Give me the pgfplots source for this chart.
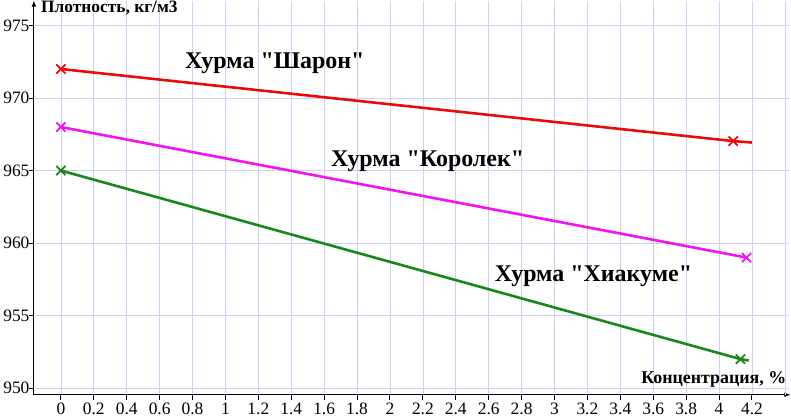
\documentclass[border=0pt]{standalone}
\usepackage{fontspec}
\setmainfont{Liberation Serif}
\usepackage{pgfplots}
\pgfplotsset{compat=1.18}
\font\annf="Liberation Serif/B" at 24bp
\definecolor{gridc}{RGB}{208,208,240}
\definecolor{cred}{RGB}{235,10,10}
\definecolor{cmag}{RGB}{240,20,240}
\definecolor{cgreen}{RGB}{25,135,25}
\begin{document}
\begin{tikzpicture}
\begin{axis}[
  scale only axis, width=758bp, height=395bp,
  xmin=-0.164, xmax=4.434, ymin=949.54, ymax=976.72,
  axis lines=left,
  axis line style={line width=1.1bp},
  every outer x axis line/.append style={-latex},
  every outer y axis line/.append style={-latex},
  tick align=outside, major tick length=5bp,
  tick style={black, line width=1bp},
  xtick={0,0.2,0.4,0.6,0.8,1,1.2,1.4,1.6,1.8,2,2.2,2.4,2.6,2.8,3,3.2,3.4,3.6,3.8,4,4.2},
  xticklabels={0,0.2,0.4,0.6,0.8,1,1.2,1.4,1.6,1.8,2,2.2,2.4,2.6,2.8,3,3.2,3.4,3.6,3.8,4,4.2},
  ytick={950,955,960,965,970,975},
  yticklabels={950,955,960,965,970,975},
  extra x ticks={4.4}, extra x tick labels={},
  extra x tick style={major tick length=0pt, grid=major},
  grid=major, grid style={gridc, line width=0.7bp},
  ticklabel style={font=\fontsize{17.5}{20}\selectfont},
  yticklabel style={xshift=4bp},
  clip=false,
]
\addplot[cred, line width=2.6bp, mark=x, mark size=6.5bp, mark indices={2}, mark options={line width=1.8bp}] coordinates {(0,972) (4.086,967.03) (4.20,966.93)};
\addplot[cmag, line width=2.6bp, mark=x, mark size=6.5bp, mark options={line width=1.8bp}] coordinates {(0,968) (4.167,959)};
\addplot[cgreen, line width=2.6bp, mark=x, mark size=6.5bp, mark indices={2}, mark options={line width=1.8bp}] coordinates {(0,965) (4.13,952) (4.18,951.9)};
\addplot[cred, only marks, mark=x, mark size=6.5bp, mark options={line width=1.8bp}] coordinates {(0,972)};
\addplot[cgreen, only marks, mark=x, mark size=6.5bp, mark options={line width=1.8bp}] coordinates {(0,965)};
\node[anchor=base] at (axis cs:1.30,972.04) {\annf Хурма "Шарон"};
\node[anchor=base] at (axis cs:2.229,965.25) {\annf Хурма "Королек"};
\node[anchor=base] at (axis cs:3.237,957.33) {\annf Хурма "Хиакуме"};
\node[anchor=base west, inner sep=0pt, font=\fontsize{17.5}{20}\selectfont\bfseries, xshift=7bp, yshift=-12bp] at (rel axis cs:0,1) {Плотность, кг/м3};
\node[anchor=base east, inner sep=0pt, font=\fontsize{18}{20}\selectfont\bfseries, xshift=-4bp, yshift=11bp] at (rel axis cs:1,0) {Концентрация, \%};
\end{axis}
\end{tikzpicture}
\end{document}
